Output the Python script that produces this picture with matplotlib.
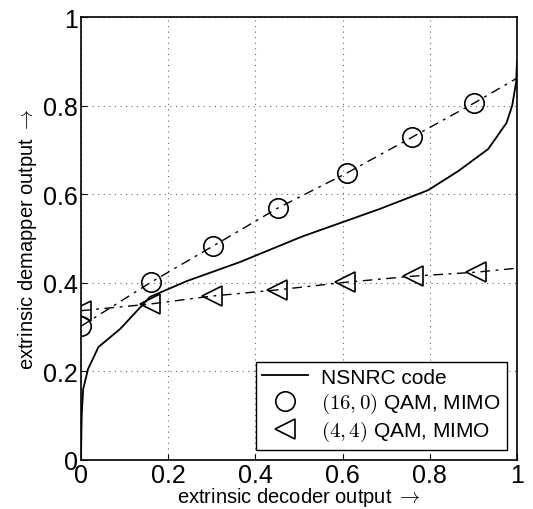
import matplotlib
matplotlib.use("Agg")
import matplotlib.pyplot as plt

plt.rcParams['font.family'] = ['Liberation Sans', 'DejaVu Sans']
plt.rcParams['mathtext.fontset'] = 'cm'

# NSNRC code curve
code_x = [0.0, 0.001, 0.002, 0.005, 0.016, 0.04, 0.09, 0.158, 0.243, 0.365,
          0.506, 0.686, 0.796, 0.865, 0.934, 0.976, 0.989, 0.998, 1.0]
code_y = [0.0, 0.07, 0.11, 0.16, 0.205, 0.255, 0.296, 0.368, 0.404, 0.447,
          0.504, 0.567, 0.609, 0.652, 0.702, 0.761, 0.80, 0.853, 0.90]

# (16,0) QAM, MIMO
qam16_x = [0.0, 0.16, 0.303, 0.452, 0.61, 0.76, 0.902, 1.0]
qam16_y = [0.302, 0.401, 0.483, 0.569, 0.648, 0.729, 0.806, 0.862]

# (4,4) QAM, MIMO
qam44_x = [0.0, 0.158, 0.30, 0.45, 0.605, 0.762, 0.907, 1.0]
qam44_y = [0.337, 0.352, 0.37, 0.384, 0.401, 0.415, 0.424, 0.433]

fig = plt.figure(figsize=(5.33, 5.10), dpi=100)
ax = fig.add_axes([81/533, 1 - 461/510, 436/533, 443/510])

dd = (7, 4, 2, 4)
ax.plot(code_x, code_y, 'k-', lw=1.3, label='NSNRC code')
ax.plot(qam16_x, qam16_y, 'k', ls=(0, dd), lw=1.0)
ax.plot(qam16_x[:-1], qam16_y[:-1], 'ko', mfc='none', ms=14, mew=1.2, ls='none',
        label=r'$(16,0)$ QAM, MIMO')
ax.plot(qam44_x, qam44_y, 'k', ls=(0, dd), lw=1.0)
ax.plot(qam44_x[:-1], qam44_y[:-1], 'k<', mfc='none', ms=14, mew=1.2, ls='none',
        label=r'$(4,4)$ QAM, MIMO')

ticks = [0, 0.2, 0.4, 0.6, 0.8, 1]
labels = ['0', '0.2', '0.4', '0.6', '0.8', '1']
ax.set_xlim(0, 1)
ax.set_ylim(0, 1)
ax.set_xticks(ticks)
ax.set_yticks(ticks)
ax.set_xticklabels(labels)
ax.set_yticklabels(labels)
ax.tick_params(direction='in', labelsize=18, length=4, pad=2)
ax.grid(True, ls=(0, (1, 4)), color='k', lw=0.8, alpha=0.6)
for s in ax.spines.values():
    s.set_linewidth(1.2)

ax.set_xlabel(r'extrinsic decoder output $\rightarrow$', fontsize=14.5, labelpad=-1)
ax.set_ylabel(r'extrinsic demapper output $\rightarrow$', fontsize=14.5, labelpad=3)

leg = ax.legend(loc='lower right', fontsize=15, fancybox=False, edgecolor='k',
                framealpha=1, handlelength=2.2, borderpad=0.3, labelspacing=0.2,
                handletextpad=0.6, borderaxespad=0.5)
leg.get_frame().set_linewidth(1.0)

fig.savefig('out.png', dpi=100)
